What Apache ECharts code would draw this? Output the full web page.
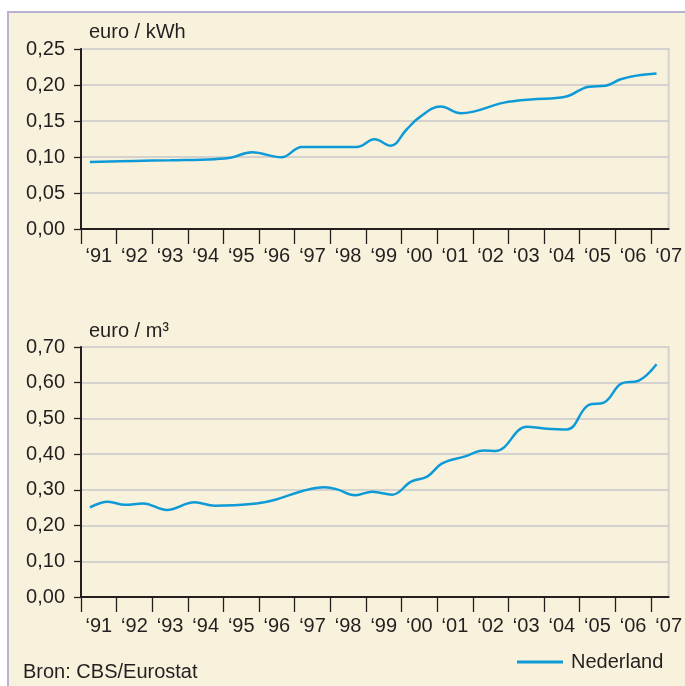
<!DOCTYPE html>
<html>
<head>
<meta charset="utf-8">
<script src="https://cdn.jsdelivr.net/npm/echarts@6/dist/echarts.min.js"></script>
<style>
  html, body { margin: 0; padding: 0; background: #fff; }
  #panel { position: absolute; left: 7px; top: 11px; width: 700px; height: 700px;
           background: #f8f2dc; border-left: 2px solid #b9b3d3; border-top: 2px solid #b9b3d3; }
  #chart { position: absolute; left: 0; top: 0; width: 685px; height: 686px; }
</style>
</head>
<body>
<div id="panel"></div>
<div id="chart"></div>
<script>
// electricity, euro / kWh
const elecYears  = [1991.25, 1992.5, 1993.5, 1994.75, 1995.2, 1995.8, 1996.63, 1997.2, 1998.0, 1998.76, 1999.24, 1999.7, 2000.13, 2000.5, 2001.1, 2001.67, 2002.88, 2003.63, 2004.6, 2005.26, 2005.73, 2006.15, 2006.6, 2007.16];
const elecPrices = [0.093, 0.0945, 0.0955, 0.097, 0.099, 0.1065, 0.0996, 0.114, 0.1138, 0.114, 0.1245, 0.1157, 0.1375, 0.155, 0.170, 0.1607, 0.1755, 0.180, 0.1838, 0.1977, 0.199, 0.208, 0.213, 0.216];

// gas, euro / m3
const gasYears  = [1991.25, 1991.76, 1992.23, 1992.74, 1993.41, 1994.19, 1994.75, 1995.93, 1996.43, 1997.22, 1997.84, 1998.17, 1998.7, 1999.18, 1999.74, 2000.27, 2000.72, 2001.14, 2001.76, 2002.32, 2002.65, 2003.52, 2004.0, 2004.64, 2005.26, 2005.68, 2006.18, 2006.66, 2007.16];
const gasPrices = [0.251, 0.267, 0.258, 0.262, 0.2436, 0.265, 0.2557, 0.262, 0.2716, 0.297, 0.307, 0.302, 0.285, 0.295, 0.2866, 0.323, 0.337, 0.374, 0.393, 0.41, 0.409, 0.477, 0.472, 0.469, 0.538, 0.544, 0.598, 0.606, 0.652];

const tickYears  = [1991, 1992, 1993, 1994, 1995, 1996, 1997, 1998, 1999, 2000, 2001, 2002, 2003, 2004, 2005, 2006, 2007];
const labelYears = tickYears.map(y => y + 0.5);

const FONT = "'Liberation Sans', Arial, sans-serif";
const FS = 20;
const TEXT = '#231f20';
const BLUE = '#0e9ad7';

const chart = echarts.init(document.getElementById('chart'));

const makeX = (gridIndex, margin) => ({
  type: 'value',
  gridIndex: gridIndex,
  min: 1991,
  max: 2007.5,
  axisLine: { lineStyle: { color: TEXT, width: 2 } },
  axisTick: { length: 15, customValues: tickYears, lineStyle: { color: TEXT, width: 1.3 } },
  axisLabel: {
    customValues: labelYears,
    margin: margin,
    color: TEXT,
    fontFamily: FONT,
    fontSize: FS,
    formatter: v => '\u2018' + String(Math.floor(v)).slice(2)
  },
  splitLine: { show: false }
});

const makeY = (gridIndex, max, interval) => ({
  type: 'value',
  gridIndex: gridIndex,
  min: 0,
  max: max,
  interval: interval,
  axisLine: { show: true, lineStyle: { color: TEXT, width: 2 } },
  axisTick: { show: true, length: 7, lineStyle: { color: TEXT, width: 1.3 } },
  axisLabel: {
    margin: 16,
    color: TEXT,
    fontFamily: FONT,
    fontSize: FS,
    formatter: v => v.toFixed(2).replace('.', ',')
  },
  splitLine: { lineStyle: { color: '#d3d2cf', width: 2 } }
});

const titleStyle = { fontSize: FS, fontWeight: 'normal', color: TEXT, fontFamily: FONT };

const option = {
  animation: false,
  textStyle: { fontFamily: FONT },
  title: [
    { text: 'euro / kWh', left: 89, top: 22, padding: 0, textStyle: titleStyle },
    { text: 'euro / m\u00b3', left: 89, top: 321, padding: 0, textStyle: titleStyle },
    { text: 'Bron: CBS/Eurostat', left: 23, top: 662, padding: 0, textStyle: titleStyle }
  ],
  legend: {
    left: 517,
    top: 652,
    padding: 0,
    icon: 'rect',
    itemWidth: 46,
    itemHeight: 3,
    textStyle: { fontSize: FS, color: TEXT, fontFamily: FONT, padding: [0, 0, 0, 3] },
    data: ['Nederland']
  },
  grid: [
    { left: 81, top: 49, width: 588, height: 180, show: true, borderColor: '#d3d2cf', borderWidth: 2, backgroundColor: 'transparent' },
    { left: 81, top: 347, width: 588, height: 250, show: true, borderColor: '#d3d2cf', borderWidth: 2, backgroundColor: 'transparent' }
  ],
  xAxis: [makeX(0, 17), makeX(1, 19)],
  yAxis: [makeY(0, 0.25, 0.05), makeY(1, 0.7, 0.1)],
  series: [
    {
      name: 'Nederland',
      type: 'line',
      xAxisIndex: 0,
      yAxisIndex: 0,
      smooth: 0.4,
      symbol: 'none',
      lineStyle: { color: BLUE, width: 2.5 },
      itemStyle: { color: BLUE },
      data: elecYears.map((y, i) => [y, elecPrices[i]])
    },
    {
      name: 'Nederland',
      type: 'line',
      xAxisIndex: 1,
      yAxisIndex: 1,
      smooth: 0.4,
      symbol: 'none',
      lineStyle: { color: BLUE, width: 2.5 },
      itemStyle: { color: BLUE },
      data: gasYears.map((y, i) => [y, gasPrices[i]])
    }
  ]
};

chart.setOption(option);
</script>
</body>
</html>
